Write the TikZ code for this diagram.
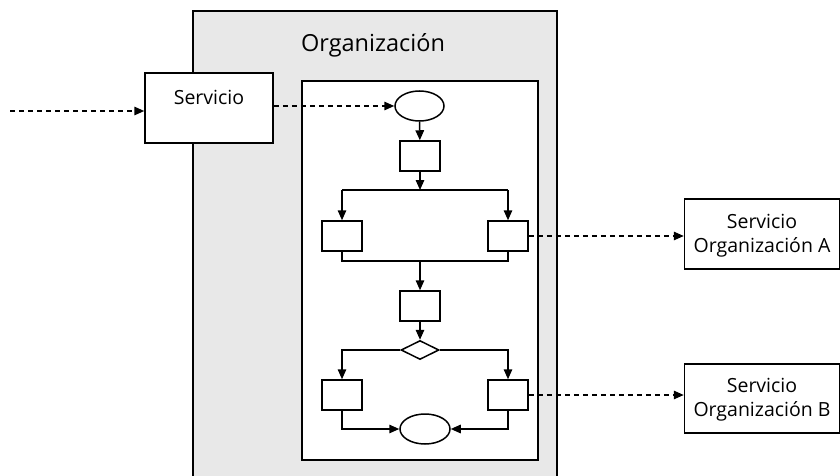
\documentclass[tikz,border=0pt]{standalone}
\usepackage{fontspec}
\setmainfont{Open Sans}
\usetikzlibrary{arrows.meta,shapes.geometric}
\begin{document}
\begin{tikzpicture}[x=1pt,y=-1pt,
  line width=1.5pt,
  tip/.style={-{Triangle[length=10pt,width=8.5pt]}},
  flow/.style={draw,tip},
  msg/.style={draw,tip,dash pattern=on 5pt off 4pt},
  task/.style={draw,rectangle,minimum width=40pt,minimum height=30pt,inner sep=0pt},
  event/.style={draw,ellipse,inner sep=0pt},
  gate/.style={draw,diamond,minimum width=38pt,minimum height=19pt,inner sep=0pt,aspect=2},
  lbl/.style={font=\fontsize{19.5}{24}\selectfont},
]
\useasboundingbox (0,0) rectangle (840,476);
% organisation pool
\path[draw,fill=black!9] (193,11) -- (557,11) -- (557,480) -- (193,480) -- cycle;
\node[font=\fontsize{23.5}{28}\selectfont] (org) at (373,45) {Organización};
% entry service
\node[draw,fill=white,minimum width=128pt,minimum height=70pt,inner sep=0pt] (srv) at (209,108) {};
\node[lbl] (srvt) at (209,97) {Servicio};
\coordinate (src) at (10,111);
% process area
\node[draw,fill=white,minimum width=236pt,minimum height=379pt,inner sep=0pt] (proc) at (420,270.5) {};
\node[event,minimum width=49pt,minimum height=30pt] (start) at (419.5,106) {};
\node[task] (t1) at (420,156) {};
\node[task] (tl) at (342,236) {};
\node[task] (tr) at (508,236) {};
\node[task] (t3) at (420,306) {};
\node[gate] (g) at (420,350) {};
\node[task] (bl) at (342,395) {};
\node[task] (br) at (508,395) {};
\node[event,minimum width=50pt,minimum height=30pt] (end) at (425,429) {};
\coordinate (split) at (420,190);
\coordinate (join) at (420,261);
% external services
\node[draw,fill=white,minimum width=155pt,minimum height=70pt,inner sep=0pt] (sa) at (762,234) {};
\node[lbl,align=center] (sat) at (762,235.5) {Servicio\\Organización A};
\node[draw,fill=white,minimum width=155pt,minimum height=69pt,inner sep=0pt] (sb) at (762,398.5) {};
\node[lbl,align=center] (sbt) at (762,400) {Servicio\\Organización B};
% message flows
\draw[msg] (src) -- (src -| srv.west);
\draw[msg] (srv.east |- start) -- (start.west);
\draw[msg] (tr.east) -- (tr.east -| sa.west);
\draw[msg] (br.east) -- (br.east -| sb.west);
% sequence flows
\draw[flow] (start) -- (t1);
\draw[flow] (t1) -- (split);
\draw (split -| tl) -- (split -| tr);
\draw[flow] (split -| tl) -- (tl);
\draw[flow] (split -| tr) -- (tr);
\draw (tl.south) -- (join -| tl) -- (join -| tr) -- (tr.south);
\draw[flow] (join) -- (t3);
\draw[flow] (t3) -- (g);
\draw[flow] (g.west) -| (bl.north);
\draw[flow] (g.east) -| (br.north);
\draw[flow] (bl.south) |- (end.west);
\draw[flow] (br.south) |- (end.east);
\end{tikzpicture}
\end{document}
